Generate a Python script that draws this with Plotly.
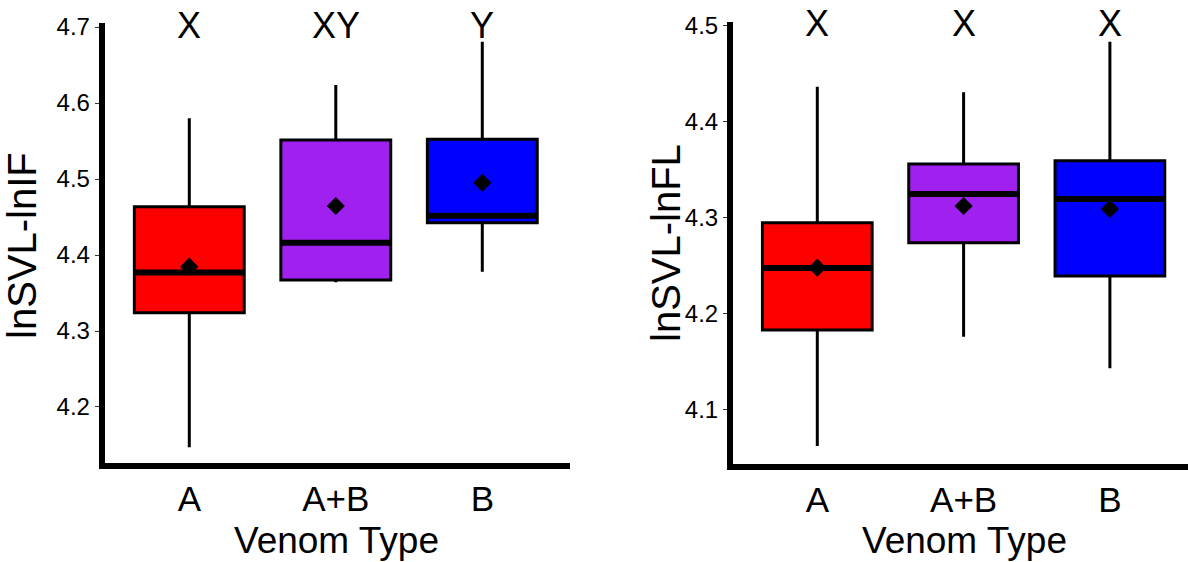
import plotly.graph_objects as go

# Venom groups shared by both panels
venom_types = ["A", "A+B", "B"]
box_colors = ["#FF0000", "#A020F0", "#0000FF"]

# Panel 1: lnSVL-lnIF box summaries
if_lower = [4.147, 4.364, 4.378]
if_q1 = [4.324, 4.367, 4.4425]
if_median = [4.377, 4.416, 4.4517]
if_q3 = [4.4636, 4.5513, 4.5522]
if_upper = [4.580, 4.6237, 4.6807]
if_mean = [4.3846, 4.4645, 4.4951]
if_letters = ["X", "XY", "Y"]
if_ticks = [4.2, 4.3, 4.4, 4.5, 4.6, 4.7]

# Panel 2: lnSVL-lnFL box summaries
fl_lower = [4.0618, 4.1756, 4.1427]
fl_q1 = [4.1826, 4.2735, 4.2389]
fl_median = [4.2472, 4.3243, 4.3191]
fl_q3 = [4.2944, 4.3555, 4.359]
fl_upper = [4.436, 4.4302, 4.4829]
fl_mean = [4.2475, 4.3118, 4.3087]
fl_letters = ["X", "X", "X"]
fl_ticks = [4.1, 4.2, 4.3, 4.4, 4.5]

W, H = 1188, 562
FONT = "Liberation Sans, Arial, sans-serif"
BOX_W = 0.75


def px_x(p):
    return p / W


def px_y(p):
    return 1 - p / H


fig = go.Figure()


def add_panel(xa, ya, lower, q1, med, q3, upper, mean, letters, letter_y):
    pos = list(range(len(venom_types)))
    for i, col in enumerate(box_colors):
        fig.add_trace(go.Box(
            x=[pos[i]], q1=[q1[i]], median=[med[i]], q3=[q3[i]],
            lowerfence=[lower[i]], upperfence=[upper[i]],
            width=BOX_W, whiskerwidth=0, fillcolor=col, boxpoints=False,
            line=dict(color="black", width=3),
            xaxis=xa, yaxis=ya, hoverinfo="skip",
        ))
        # thicker median bar across the box
        fig.add_trace(go.Scatter(
            x=[pos[i] - BOX_W / 2, pos[i] + BOX_W / 2], y=[med[i], med[i]],
            mode="lines", line=dict(color="black", width=6),
            xaxis=xa, yaxis=ya, hoverinfo="skip",
        ))
    fig.add_trace(go.Scatter(
        x=pos, y=mean, mode="markers",
        marker=dict(symbol="diamond", size=14, color="black"),
        xaxis=xa, yaxis=ya, hoverinfo="skip",
    ))
    for i, t in enumerate(letters):
        fig.add_annotation(
            x=pos[i], y=letter_y, xref=xa, yref=ya, text=t, showarrow=False,
            font=dict(family=FONT, size=36, color="black"),
            xanchor="center", yanchor="middle", yshift=2,
        )


add_panel("x", "y", if_lower, if_q1, if_median, if_q3, if_upper, if_mean,
          if_letters, 4.7)
add_panel("x2", "y2", fl_lower, fl_q1, fl_median, fl_q3, fl_upper, fl_mean,
          fl_letters, 4.5)

axis_common = dict(
    showline=True, linewidth=5.5, linecolor="black", showgrid=False,
    zeroline=False, fixedrange=True, automargin=False,
)

# left panel geometry (pixels)
L_left, L_right, L_c0, L_step = 104.5, 570.0, 189.3, 146.5
# right panel geometry (pixels)
R_left, R_right, R_c0, R_step = 732.75, 1188.0, 817.3, 146.3

fig.update_layout(
    template="none",
    width=W, height=H,
    margin=dict(l=0, r=0, t=0, b=0, pad=0, autoexpand=False),
    paper_bgcolor="white", plot_bgcolor="white",
    showlegend=False,
    font=dict(family=FONT, color="black"),
    xaxis=dict(
        **axis_common, anchor="y",
        domain=[px_x(L_left), px_x(L_right)],
        range=[(L_left - L_c0) / L_step, (L_right - L_c0) / L_step],
        tickmode="array", tickvals=[0, 1, 2], ticktext=venom_types,
        ticks="", tickfont=dict(size=35, color="black"),
    ),
    yaxis=dict(
        **axis_common, anchor="x",
        domain=[px_y(463.3), px_y(22.7)],
        range=[4.1259, 4.7057],
        tickmode="array", tickvals=if_ticks,
        ticktext=[f"{v:.1f}" for v in if_ticks],
        ticks="outside", ticklen=4, tickwidth=1, tickcolor="#333333",
        tickfont=dict(size=24, color="black"),
    ),
    xaxis2=dict(
        **axis_common, anchor="y2",
        domain=[px_x(R_left), px_x(R_right)],
        range=[(R_left - R_c0) / R_step, (R_right - R_c0) / R_step],
        tickmode="array", tickvals=[0, 1, 2], ticktext=venom_types,
        ticks="", tickfont=dict(size=35, color="black"),
    ),
    yaxis2=dict(
        **axis_common, anchor="x2",
        domain=[px_y(464.0), px_y(21.7)],
        range=[4.043, 4.5038],
        tickmode="array", tickvals=fl_ticks,
        ticktext=[f"{v:.1f}" for v in fl_ticks],
        ticks="outside", ticklen=4, tickwidth=1, tickcolor="#333333",
        tickfont=dict(size=24, color="black"),
    ),
)

# axis titles
titles = [
    ("Venom Type", 336, 540.7, 0, 37),
    ("Venom Type", 964, 540.7, 0, 37),
    ("lnSVL-lnIF", 22, 246, -90, 40),
    ("lnSVL-lnFL", 666, 243, -90, 40),
]
for text, xp, yp, ang, size in titles:
    fig.add_annotation(
        x=px_x(xp), y=px_y(yp), xref="paper", yref="paper", text=text,
        showarrow=False, textangle=ang,
        font=dict(family=FONT, size=size, color="black"),
        xanchor="center", yanchor="middle",
    )

fig.write_html("out.html")
